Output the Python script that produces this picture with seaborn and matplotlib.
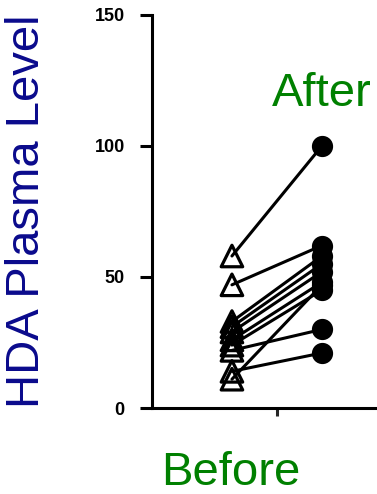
import matplotlib
matplotlib.use("Agg")
import matplotlib.pyplot as plt
import seaborn as sns
import pandas as pd

sns.set_style("ticks")
plt.rcParams['font.family'] = ['Liberation Sans', 'DejaVu Sans']

subjects = ["S1", "S2", "S3", "S4", "S5", "S6", "S7", "S8", "S9", "S10"]
before = [58, 47, 33, 31, 29, 26, 22, 14, 11, 24]
after = [100, 62, 58, 55, 52, 48, 30, 21, 47, 45]
groups = ["Before", "After"]
yticks = [0, 50, 100, 150]

rows = []
for s, b, a in zip(subjects, before, after):
    rows.append({"subject": s, "group": groups[0], "pos": 0, "value": b})
    rows.append({"subject": s, "group": groups[1], "pos": 1, "value": a})
df = pd.DataFrame(rows)

fig = plt.figure(figsize=(3.77, 4.94), dpi=100)
ax = fig.add_axes([0.403, 0.174, 0.62, 0.796])

sns.lineplot(data=df, x="pos", y="value", units="subject", estimator=None,
             color="black", lw=2.2, ax=ax, legend=False, zorder=2)
sns.scatterplot(data=df[df.group == "After"], x="pos", y="value", marker="o",
                s=200, color="black", edgecolor="black", ax=ax, legend=False, zorder=3)
sns.scatterplot(data=df[df.group == "Before"], x="pos", y="value", marker="^",
                s=240, facecolor="none", edgecolor="black", linewidth=2.3,
                ax=ax, legend=False, zorder=4)

ax.set_xlim(-0.889, 1.708)
ax.set_ylim(0, 150)
ax.set_yticks(yticks)
ax.set_yticklabels([str(t) for t in yticks], fontsize=13, fontweight="bold")
ax.set_xticks([0.5])
ax.set_xticklabels([""])
ax.tick_params(axis="y", length=8.5, width=2.2, pad=11, colors="black")
ax.tick_params(axis="x", length=6, width=2.2)
for side in ["top", "right"]:
    ax.spines[side].set_visible(False)
for side in ["left", "bottom"]:
    ax.spines[side].set_linewidth(2.2)
    ax.spines[side].set_color("black")

ax.set_xlabel("")
ax.set_ylabel("HDA Plasma Level", fontsize=34, color="#0a0a8c")
ax.yaxis.set_label_coords(-0.44, 0.5)
fig.text(0.612, 0.042, "Before", fontsize=34, color="#008000", ha="center", va="center")
fig.text(0.853, 0.81, "After", fontsize=34, color="#008000", ha="center", va="center")

fig.savefig("out.png", dpi=100)
